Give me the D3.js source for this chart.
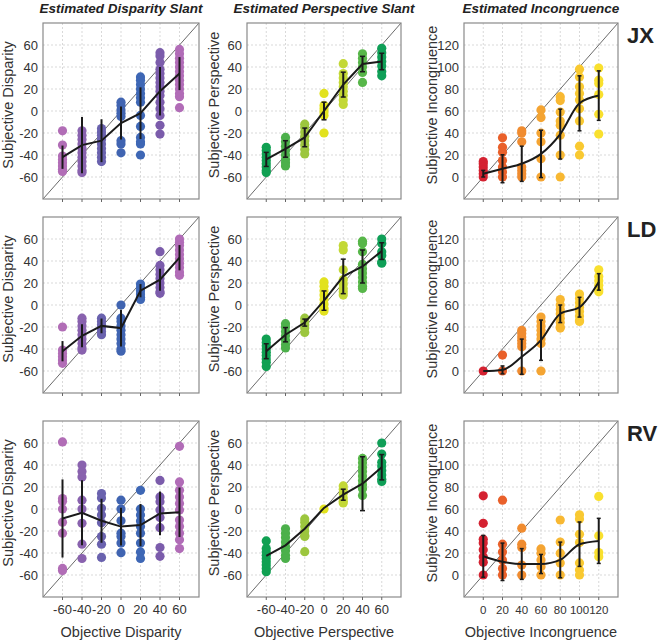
<!DOCTYPE html>
<html>
<head>
<meta charset="utf-8">
<script src="https://cdn.jsdelivr.net/npm/d3@7/dist/d3.min.js"></script>
<style>
  body { margin: 0; background: #fff; }
  text { font-family: "Liberation Sans", Arial, sans-serif; fill: #333; }
</style>
</head>
<body>
<script>
// objective levels
const slantLevels = [-60, -40, -20, 0, 20, 40, 60];
const incLevels = [0, 20, 40, 60, 80, 100, 120];
const slantTicks = [-60, -40, -20, 0, 20, 40, 60];
const incTicks = [0, 20, 40, 60, 80, 100, 120];

const columnTitles = ["Estimated Disparity Slant", "Estimated Perspective Slant", "Estimated Incongruence"];
const xTitles = ["Objective Disparity", "Objective Perspective", "Objective Incongruence"];
const yTitles = ["Subjective Disparity", "Subjective Perspective", "Subjective Incongruence"];
const observers = ["JX", "LD", "RV"];

// dot colours per objective level
const disparityColors = ["#b16db6", "#8962ae", "#6a62ae", "#4064b1", "#3e67b5", "#7b5cab", "#b16cb7"];
const perspectiveColors = ["#10a052", "#4cb04b", "#9cc63e", "#e2e21e", "#c3d836", "#57b649", "#0f9f57"];
const incongruenceColors = ["#d42231", "#e9602a", "#f08c30", "#f4a432", "#f8b832", "#f9c931", "#f9e02e"];

// JX
const jxDispPts = [
  [-18, -31, -41, -44, -47, -50, -53, -55],
  [-18, -22, -26, -30, -34, -38, -42, -46, -50, -54, -56],
  [-16, -19, -22, -26, -30, -34, -38, -42, -46],
  [8, 5, 1, -2, -5, -27, -30, -38],
  [31, 28, 24, 20, 16, 12, 8, -4, -14, -24, -28, -30, -40],
  [53, 50, 44, 38, 34, 30, 26, 22, 18, 14, 8, 2, -4, -13, -21],
  [56, 52, 48, 44, 40, 36, 32, 28, 24, 20, 16, 13, 3]
];
const jxDispMean = [-42, -31, -27, -11, -2, 18, 34];
const jxDispSd = [10.6, 25.5, 19.5, 15, 23.5, 22, 15];

const jxPerspPts = [
  [-33, -36, -39, -42, -45, -48, -51, -54, -56],
  [-24, -28, -32, -36, -40, -44, -47, -50],
  [-12, -15, -19, -23, -27, -31, -35, -39],
  [16, 5, 2, -1, -4, -20],
  [43, 34, 30, 26, 22, 18, 14, 10, 6],
  [52, 48, 44, 40, 35, 26],
  [57, 53, 49, 45, 41, 36, 32]
];
const jxPerspMean = [-44, -34.5, -24, 0, 24, 42.7, 45];
const jxPerspSd = [6.4, 7.5, 8.5, 8, 11.3, 7, 7.5];

const jxIncPts = [
  [14, 12, 9, 6, 3, 0],
  [35.6, 27, 22.6, 15, 9, 4.5, 0],
  [42, 40, 32, 9, 6, 3, 0],
  [61, 54, 40, 32, 16.6, 0],
  [73, 69.5, 59, 51, 47, 38, 20, 0],
  [98, 91, 82, 76, 70, 62, 51, 28, 20],
  [99, 88, 85, 75, 57, 39]
];
const jxIncMean = [3, 7.5, 12, 21, 39, 67, 74];
const jxIncSd = [3, 12.7, 16, 21.5, 22.7, 25, 22.5];

// LD
const ldDispPts = [
  [-20, -41, -44, -47, -50, -53],
  [-12, -15, -19, -23, -27, -31, -35, -39, -41],
  [-12, -15, -18, -21, -24, -27],
  [0, -12, -15, -19, -23, -27, -31, -35, -40, -42],
  [19, 16, 13, 10, 7, 5],
  [48.5, 36, 32, 28, 24, 20, 16, 12, 10.6],
  [60, 57, 54, 50, 46, 42, 38, 34, 30, 27]
];
const ldDispMean = [-42, -28, -19, -21, 13, 23, 43];
const ldDispSd = [9.2, 10.5, 6.7, 16.7, 6, 10, 11.5];

const ldPerspPts = [
  [-31, -34, -37, -40, -43, -46, -49, -52, -56],
  [-17, -20, -24, -28, -32, -36, -39],
  [-12, -15, -18, -21, -25],
  [21, 17, 13, 9, 5, 1, -3, -5.5],
  [54, 50, 32, 23, 19, 15, 12, 9],
  [58, 56, 48.5, 37, 33, 29, 25, 21, 17, 15],
  [60, 56, 48.5, 45, 39, 38]
];
const ldPerspMean = [-42, -27, -16, 4, 26, 35, 49];
const ldPerspSd = [6.8, 6.5, 3.2, 8.8, 15.7, 15, 7.6];

const ldIncPts = [
  [0],
  [14.5, 0],
  [37, 34, 31, 28, 25, 22, 0],
  [49, 45, 41, 37, 33, 29, 25, 0],
  [65, 60, 56, 52, 48, 44, 40, 39],
  [70, 66, 62, 58, 54, 50, 46, 45],
  [92, 86, 82, 78, 74, 72]
];
const ldIncMean = [0, 1, 13, 28, 52, 58, 81];
const ldIncSd = [0, 3.6, 16, 18.3, 8, 9, 7.5];

// RV
const rvDispPts = [
  [61, 9.5, 7, 0, -12, -22, -54, -56],
  [40, 34, 29, 8, 0, -13, -32, -45],
  [14, 10, 0.6, -5.5, -12.5, -25, -32, -44],
  [8, 0, -10.7, -22, -25, -31, -39.7],
  [17, 0, -5.5, -11, -16, -22, -31, -39, -45],
  [26, 11, 6.5, -1, -7.7, -17, -35, -43],
  [57, 24.6, 17, 11, 5, -1, -10, -16, -22, -28, -36]
];
const rvDispMean = [-8.6, -3.4, -10.7, -16, -14.6, -4, -3];
const rvDispSd = [35.5, 29.5, 20, 17.2, 19.2, 19.8, 22.5];

const rvPerspPts = [
  [-29, -36, -39, -42, -45, -48, -51, -54, -57],
  [-18, -22, -26, -30, -34, -38, -42, -45],
  [-9, -12, -16, -20, -24, -25, -38.8],
  [0],
  [21, 18, 14, 10, 7, 5.5],
  [46, 42, 38, 34, 30, 26, 22, 18.4, 12.3],
  [60, 50, 42.6, 39, 35, 31, 27, 25]
];
const rvPerspMean = [-42.7, -33, -18, 1, 13, 23, 38];
const rvPerspSd = [0, 0, 0, 0, 5, 24.5, 11.5];

const rvIncPts = [
  [72, 47, 32.5, 29, 23, 16.7, 11.5, 0],
  [68, 28, 21, 13.7, 6, 0],
  [42.6, 28, 25, 9, 0],
  [23.7, 19.8, 13.7, 7.6, 0],
  [50, 30, 19.8, 11, 0],
  [54.7, 50.8, 37, 29.5, 11, 4.6, 0],
  [71.4, 35.6, 20.4, 16.7]
];
const rvIncMean = [17, 12, 10, 10, 13.7, 28, 31];
const rvIncSd = [19, 17, 14, 8.7, 16.2, 20.2, 20.5];

const panelData = [
  [[jxDispPts, jxDispMean, jxDispSd], [jxPerspPts, jxPerspMean, jxPerspSd], [jxIncPts, jxIncMean, jxIncSd]],
  [[ldDispPts, ldDispMean, ldDispSd], [ldPerspPts, ldPerspMean, ldPerspSd], [ldIncPts, ldIncMean, ldIncSd]],
  [[rvDispPts, rvDispMean, rvDispSd], [rvPerspPts, rvPerspMean, rvPerspSd], [rvIncPts, rvIncMean, rvIncSd]]
];

// layout
const cols = [{ x0: 43, x1: 199 }, { x0: 247, x1: 401 }, { x0: 464, x1: 618 }];
const rows = [{ y0: 23, y1: 199 }, { y0: 217, y1: 393 }, { y0: 421, y1: 597 }];
const yTitleX = [13, 219, 437];
const capW = [0, 5, 4];
const xLabelSize = ["13px", "13px", "11.5px"];

const colSetup = [
  { levels: slantLevels, ticks: slantTicks, domain: [-80, 80], colors: disparityColors, curve: d3.curveLinear },
  { levels: slantLevels, ticks: slantTicks, domain: [-80, 80], colors: perspectiveColors, curve: d3.curveLinear },
  { levels: incLevels, ticks: incTicks, domain: [-20, 140], colors: incongruenceColors, curve: d3.curveMonotoneX }
];

const svg = d3.select("body").append("svg")
  .attr("width", 661)
  .attr("height", 643);

// column titles
columnTitles.forEach((t, c) => {
  svg.append("text")
    .attr("x", (cols[c].x0 + cols[c].x1) / 2)
    .attr("y", 13)
    .attr("text-anchor", "middle")
    .style("font-size", "13.5px")
    .style("font-weight", "bold")
    .style("font-style", "italic")
    .style("fill", "#222")
    .text(t);
});

rows.forEach((rw, r) => {
  // observer label
  svg.append("text")
    .attr("x", 627)
    .attr("y", rw.y0 + 20)
    .style("font-size", "22px")
    .style("font-weight", "bold")
    .style("fill", "#222")
    .text(observers[r]);

  cols.forEach((cl, c) => {
    const s = colSetup[c];
    const [pts, means, sds] = panelData[r][c];
    const x = d3.scaleLinear().domain(s.domain).range([cl.x0, cl.x1]);
    const y = d3.scaleLinear().domain(s.domain).range([rw.y1, rw.y0]);
    const g = svg.append("g");

    // grid
    g.selectAll(".gx").data(s.ticks).enter().append("line")
      .attr("x1", d => x(d)).attr("x2", d => x(d))
      .attr("y1", rw.y0).attr("y2", rw.y1)
      .attr("stroke", "#cfcfcf").attr("stroke-dasharray", "2,2").attr("stroke-width", 0.8);
    g.selectAll(".gy").data(s.ticks).enter().append("line")
      .attr("x1", cl.x0).attr("x2", cl.x1)
      .attr("y1", d => y(d)).attr("y2", d => y(d))
      .attr("stroke", "#cfcfcf").attr("stroke-dasharray", "2,2").attr("stroke-width", 0.8);

    // identity line
    g.append("line")
      .attr("x1", x(s.domain[0])).attr("y1", y(s.domain[0]))
      .attr("x2", x(s.domain[1])).attr("y2", y(s.domain[1]))
      .attr("stroke", "#444").attr("stroke-width", 0.8);

    // raw estimates
    pts.forEach((vals, i) => {
      g.selectAll(null).data(vals).enter().append("circle")
        .attr("cx", x(s.levels[i]))
        .attr("cy", d => y(d))
        .attr("r", 4.6)
        .attr("fill", s.colors[i]);
    });

    // error bars
    s.levels.forEach((lv, i) => {
      if (!sds[i]) return;
      const cx = x(lv);
      const top = y(means[i] + sds[i]), bot = y(means[i] - sds[i]);
      g.append("line").attr("x1", cx).attr("x2", cx).attr("y1", top).attr("y2", bot)
        .attr("stroke", "#1a1a1a").attr("stroke-width", 2);
      if (capW[c]) {
        [top, bot].forEach(yy => {
          g.append("line").attr("x1", cx - capW[c] / 2).attr("x2", cx + capW[c] / 2)
            .attr("y1", yy).attr("y2", yy)
            .attr("stroke", "#1a1a1a").attr("stroke-width", 1.5);
        });
      }
    });

    // mean line
    const line = d3.line()
      .x((d, i) => x(s.levels[i]))
      .y(d => y(d))
      .curve(s.curve);
    g.append("path")
      .datum(means)
      .attr("d", line)
      .attr("fill", "none")
      .attr("stroke", "#1a1a1a")
      .attr("stroke-width", 2);

    // frame
    g.append("rect")
      .attr("x", cl.x0).attr("y", rw.y0)
      .attr("width", cl.x1 - cl.x0).attr("height", rw.y1 - rw.y0)
      .attr("fill", "none").attr("stroke", "#8a8a8a").attr("stroke-width", 1.2);

    // bottom tick marks
    g.selectAll(".tk").data(s.ticks).enter().append("line")
      .attr("x1", d => x(d)).attr("x2", d => x(d))
      .attr("y1", rw.y1).attr("y2", rw.y1 + 3)
      .attr("stroke", "#666").attr("stroke-width", 1);

    // y tick labels
    g.selectAll(".yl").data(s.ticks).enter().append("text")
      .attr("x", cl.x0 - 5)
      .attr("y", d => y(d))
      .attr("dy", "0.36em")
      .attr("text-anchor", "end")
      .style("font-size", "13px")
      .text(d => d);

    // y title
    const ym = (rw.y0 + rw.y1) / 2 - 6;
    g.append("text")
      .attr("transform", "translate(" + yTitleX[c] + "," + ym + ") rotate(-90)")
      .attr("text-anchor", "middle")
      .style("font-size", "14.5px")
      .text(yTitles[c]);

    if (r === 2) {
      g.selectAll(".xl").data(s.ticks).enter().append("text")
        .attr("x", d => x(d))
        .attr("y", rw.y1 + 17)
        .attr("text-anchor", "middle")
        .style("font-size", xLabelSize[c])
        .text(d => d);
      g.append("text")
        .attr("x", (cl.x0 + cl.x1) / 2)
        .attr("y", 637)
        .attr("text-anchor", "middle")
        .style("font-size", "14.5px")
        .text(xTitles[c]);
    }
  });
});
</script>
</body>
</html>
